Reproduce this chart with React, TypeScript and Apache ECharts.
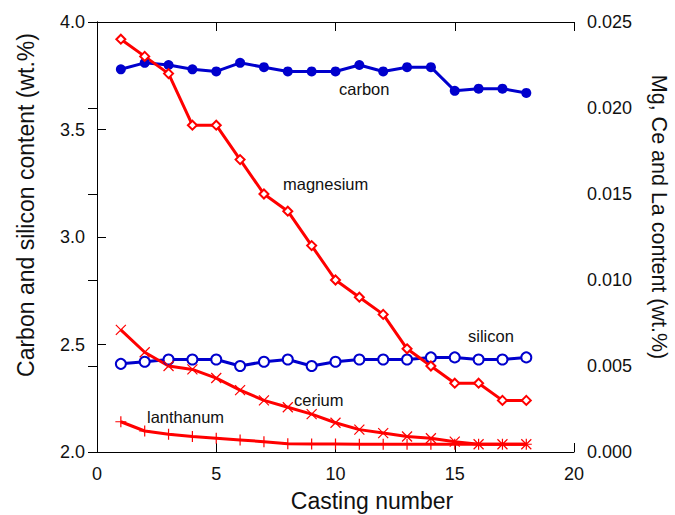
import React, { useEffect, useRef } from "react";
import * as echarts from "echarts";

const castings = [1, 2, 3, 4, 5, 6, 7, 8, 9, 10, 11, 12, 13, 14, 15, 16, 17, 18];
const carbon = [3.78, 3.81, 3.8, 3.78, 3.77, 3.81, 3.79, 3.77, 3.77, 3.77, 3.8, 3.77, 3.79, 3.79, 3.68, 3.69, 3.69, 3.67];
const silicon = [2.41, 2.42, 2.43, 2.43, 2.43, 2.4, 2.42, 2.43, 2.4, 2.42, 2.43, 2.43, 2.43, 2.44, 2.44, 2.43, 2.43, 2.44];
const magnesium = [0.024, 0.023, 0.022, 0.019, 0.019, 0.017, 0.015, 0.014, 0.012, 0.01, 0.009, 0.008, 0.006, 0.005, 0.004, 0.004, 0.003, 0.003];
const cerium = [0.0071, 0.0058, 0.005, 0.0048, 0.0043, 0.0036, 0.003, 0.0026, 0.0022, 0.0017, 0.0013, 0.0011, 0.0009, 0.0008, 0.0006, 0.00045, 0.00045, 0.00045];
const lanthanum = [0.00176, 0.00122, 0.00103, 0.0009, 0.0008, 0.0007, 0.0006, 0.00048, 0.00046, 0.00046, 0.00045, 0.00045, 0.00045, 0.00045, 0.00045, 0.00045, 0.00045, 0.00045];

const xTicks = { min: 0, max: 20, interval: 5 };
const leftTicks = { min: 2, max: 4, interval: 0.5 };
const rightTicks = { min: 0, max: 0.025, interval: 0.005 };

const BLUE = "#0000CD";
const RED = "#FF0000";
const FONT = "'Liberation Sans', Arial, sans-serif";

const pairs = (ys: number[]) => castings.map((x, i) => [x, ys[i]]);

export default function App() {
  const ref = useRef<HTMLDivElement>(null);
  useEffect(() => {
    if (!ref.current) return;
    const chart = echarts.init(ref.current, undefined, { renderer: "svg" });
    const axisLine = { show: true, lineStyle: { color: "#000", width: 1 } };
    const axisTick = { show: true, inside: true, length: 9, lineStyle: { color: "#000", width: 1 } };
    const labelStyle = { color: "#111", fontSize: 18, fontFamily: FONT };
    const annot = (text: string, x: number, y: number) => ({
      type: "text",
      x,
      y,
      style: { text, fill: "#111", font: `16.5px ${FONT}`, textAlign: "left", textVerticalAlign: "middle" },
    });
    chart.setOption({
      animation: false,
      backgroundColor: "#fff",
      grid: { left: 97, top: 22, right: 101, bottom: 63, show: false },
      xAxis: [
        {
          type: "value", ...xTicks, position: "bottom",
          axisLine, axisTick, splitLine: { show: false },
          axisLabel: { ...labelStyle, margin: 13 },
        },
        {
          type: "value", ...xTicks, position: "top",
          axisLine, axisTick, splitLine: { show: false },
          axisLabel: { show: false },
        },
      ],
      yAxis: [
        {
          type: "value", ...leftTicks, position: "left",
          axisLine, axisTick, splitLine: { show: false },
          axisLabel: { ...labelStyle, margin: 12, formatter: (v: number) => v.toFixed(1) },
        },
        {
          type: "value", ...rightTicks, position: "right",
          axisLine, axisTick, splitLine: { show: false },
          axisLabel: { ...labelStyle, margin: 13, formatter: (v: number) => v.toFixed(3) },
        },
      ],
      series: [
        {
          name: "carbon", type: "line", xAxisIndex: 0, yAxisIndex: 0, data: pairs(carbon),
          symbol: "circle", symbolSize: 10,
          lineStyle: { color: BLUE, width: 3 }, itemStyle: { color: BLUE },
        },
        {
          name: "silicon", type: "line", xAxisIndex: 0, yAxisIndex: 0, data: pairs(silicon),
          symbol: "emptyCircle", symbolSize: 10,
          lineStyle: { color: BLUE, width: 3 }, itemStyle: { color: BLUE, borderColor: BLUE, borderWidth: 1 },
        },
        {
          name: "magnesium", type: "line", xAxisIndex: 0, yAxisIndex: 1, data: pairs(magnesium),
          symbol: "emptyDiamond", symbolSize: 9,
          lineStyle: { color: RED, width: 3 }, itemStyle: { color: RED, borderColor: RED, borderWidth: 1 },
        },
        {
          name: "cerium", type: "line", xAxisIndex: 0, yAxisIndex: 1, data: pairs(cerium),
          symbol: "path://M0,0L10,10M10,0L0,10", symbolSize: 10, symbolKeepAspect: true,
          lineStyle: { color: RED, width: 3 }, itemStyle: { color: "none", borderColor: RED, borderWidth: 1.2 },
        },
        {
          name: "lanthanum", type: "line", xAxisIndex: 0, yAxisIndex: 1, data: pairs(lanthanum),
          symbol: "path://M5,0L5,10M0,5L10,5", symbolSize: 11, symbolKeepAspect: true,
          lineStyle: { color: RED, width: 3 }, itemStyle: { color: "none", borderColor: RED, borderWidth: 1.2 },
        },
      ],
      graphic: [
        annot("carbon", 339, 89),
        annot("magnesium", 283, 184),
        annot("silicon", 468, 336),
        annot("cerium", 294, 400),
        annot("lanthanum", 147, 417),
        {
          type: "text", x: 372, y: 501,
          style: { text: "Casting number", fill: "#111", font: `23px ${FONT}`, textAlign: "center", textVerticalAlign: "middle" },
        },
        {
          type: "text", x: 26, y: 205, rotation: Math.PI / 2,
          style: { text: "Carbon and silicon content (wt.%)", fill: "#111", font: `23px ${FONT}`, textAlign: "center", textVerticalAlign: "middle" },
        },
        {
          type: "text", x: 659, y: 217, rotation: -Math.PI / 2,
          style: { text: "Mg, Ce and La content (wt.%)", fill: "#111", font: `21.5px ${FONT}`, textAlign: "center", textVerticalAlign: "middle" },
        },
      ],
    });
    return () => chart.dispose();
  }, []);
  return <div ref={ref} style={{ position: "fixed", left: 0, top: 0, width: 675, height: 515 }} />;
}
